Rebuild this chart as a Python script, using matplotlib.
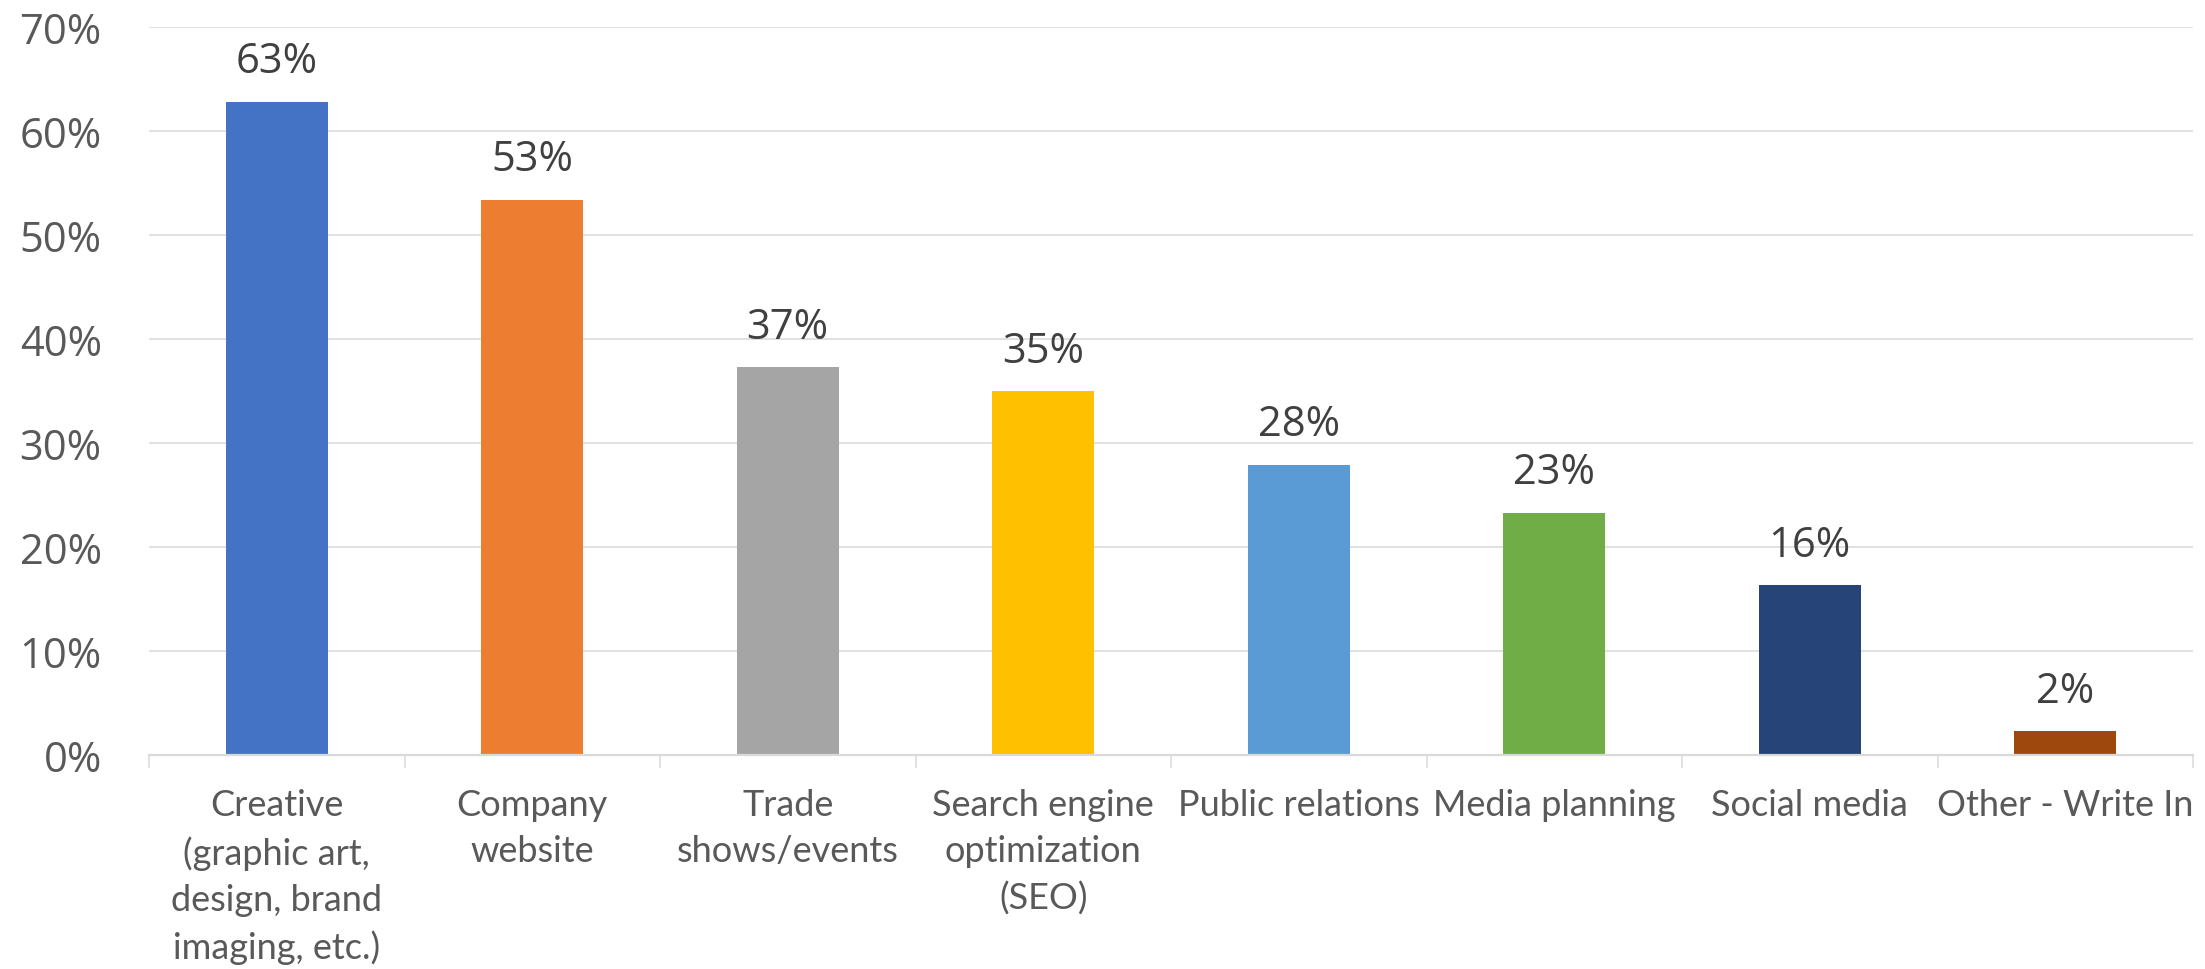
import numpy as np
import matplotlib
matplotlib.use("Agg")
import matplotlib.pyplot as plt
from matplotlib.ticker import PercentFormatter

# survey results: share of respondents per marketing service
categories = [
    "Creative\n(graphic art,\ndesign, brand\nimaging, etc.)",
    "Company\nwebsite",
    "Trade\nshows/events",
    "Search engine\noptimization\n(SEO)",
    "Public relations",
    "Media planning",
    "Social media",
    "Other - Write In",
]
shares = [0.628, 0.534, 0.373, 0.350, 0.279, 0.233, 0.163, 0.023]
colors = ["#4472C4", "#ED7D31", "#A5A5A5", "#FFC000",
          "#5B9BD5", "#70AD47", "#264478", "#9E480E"]
y_ticks = [0.0, 0.1, 0.2, 0.3, 0.4, 0.5, 0.6, 0.7]

grid_color = "#D9D9D9"

fig = plt.figure(figsize=(22.05, 9.7), dpi=100)
ax = fig.add_axes([149 / 2205, 1 - 756 / 970, (2193 - 149) / 2205, (756 - 28) / 970])

x = np.arange(len(categories))
bars = ax.bar(x, shares, width=0.40, color=colors, zorder=3)

# value labels above each bar
for xi, v in zip(x, shares):
    ax.annotate(f"{v:.0%}", (xi, v), xytext=(0, 14), textcoords="offset points",
                ha="center", va="bottom", fontsize=30, color="#404040",
                family="Open Sans")

ax.set_xlim(-0.5, len(categories) - 0.5)
ax.set_ylim(0, 0.70)
ax.set_yticks(y_ticks)
ax.yaxis.set_major_formatter(PercentFormatter(1.0, decimals=0))
ax.grid(axis="y", color=grid_color, linewidth=1.1, zorder=0)
ax.set_axisbelow(True)

for side in ["left", "right", "top"]:
    ax.spines[side].set_visible(False)
ax.spines["bottom"].set_color(grid_color)
ax.spines["bottom"].set_linewidth(1.6)
ax.spines["bottom"].set_zorder(4)

ax.tick_params(axis="y", length=0, pad=34, labelsize=30, labelcolor="#595959")
for lab in ax.get_yticklabels():
    lab.set_family("Open Sans")

# category labels centered, tick marks between categories
ax.set_xticks(x)
ax.set_xticklabels(categories, family="Lato", fontsize=26, color="#595959",
                   linespacing=1.48)
ax.tick_params(axis="x", which="major", length=0, pad=24)
ax.set_xticks(np.arange(-0.5, len(categories)), minor=True)
ax.tick_params(axis="x", which="minor", length=9.5, width=1.1, color=grid_color)

fig.savefig("out.png", dpi=100, facecolor="white")
